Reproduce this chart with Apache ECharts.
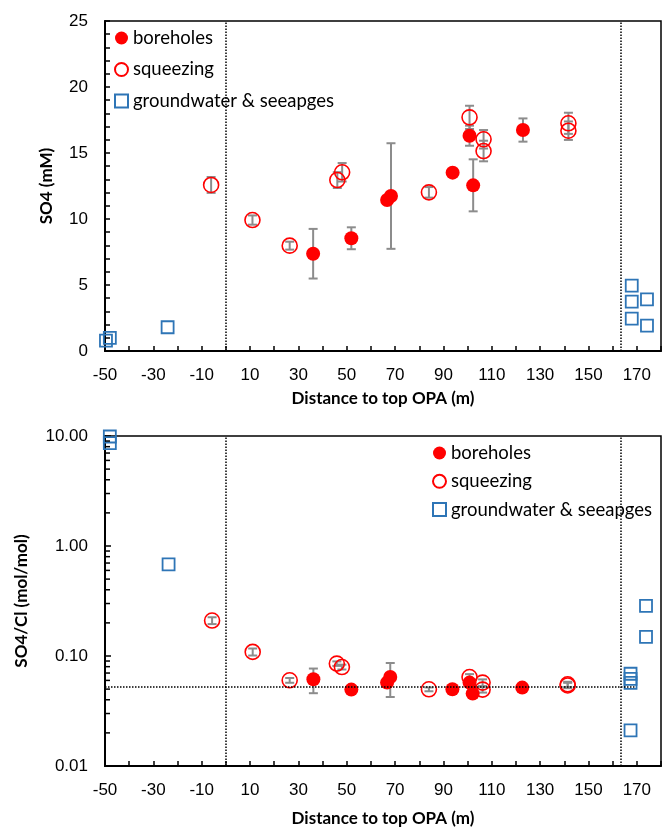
<!DOCTYPE html>
<html>
<head>
<meta charset="utf-8">
<style>
  html, body { margin: 0; padding: 0; background: #fff; }
  #main { width: 664px; height: 829px; }
</style>
</head>
<body>
<div id="main"></div>
<script src="https://cdn.jsdelivr.net/npm/echarts@6/dist/echarts.min.js"></script>
<script type="text/javascript">
// SO4 (mM) - top chart
var boreX = [36.1, 51.9, 66.7, 68.3, 93.8, 100.8, 102.3, 122.9];
var boreSO4 = [7.37, 8.54, 11.44, 11.74, 13.51, 16.31, 12.55, 16.74];
var boreSO4Err = [1.88, 0.83, 0, 4.0, 0, 0.76, 1.97, 0.88];

var sqzX = [-6.1, 11, 26.4, 46.1, 48.1, 84, 100.8, 106.6, 106.6, 141.7, 141.7];
var sqzSO4 = [12.58, 9.92, 7.98, 12.95, 13.54, 12.02, 17.7, 16.04, 15.15, 17.25, 16.69];
var sqzSO4Err = [0.6, 0.35, 0.3, 0.6, 0.7, 0.4, 0.88, 0.7, 0.78, 0.8, 0.7];

var gwX = [-49.6, -48, -24.1, 167.9, 167.9, 174.2, 167.9, 174.2];
var gwSO4 = [0.78, 1.0, 1.8, 4.95, 3.74, 3.91, 2.45, 1.92];

// SO4/Cl (mol/mol) - bottom chart
var boreX2 = [36.2, 51.9, 66.7, 68.0, 93.7, 100.8, 102.1, 122.6];
var boreRatio = [0.0614, 0.0495, 0.0573, 0.0644, 0.0498, 0.0573, 0.0455, 0.0516];
var boreRatioErr = [0.0155, 0, 0, 0.022, 0, 0, 0.004, 0];

var sqzX2 = [-5.7, 11.1, 26.4, 45.9, 48, 84, 100.8, 106.2, 106.2, 141.4, 141.4];
var sqzRatio = [0.21, 0.109, 0.0601, 0.0853, 0.0794, 0.0498, 0.0644, 0.0573, 0.0495, 0.0553, 0.054];
var sqzRatioErr = [0.015, 0.008, 0.003, 0.004, 0.004, 0.002, 0.004, 0.004, 0.003, 0.003, 0.003];

var gwX2 = [-48, -48, -23.7, 173.8, 173.8, 167.4, 167.4, 167.4, 167.4];
var gwRatio = [9.9, 8.6, 0.682, 0.285, 0.149, 0.069, 0.062, 0.057, 0.0211];

var refRatio = 0.052;
var logMinorTicks = [0.02, 0.03, 0.04, 0.05, 0.06, 0.07, 0.08, 0.09,
                     0.2, 0.3, 0.4, 0.5, 0.6, 0.7, 0.8, 0.9,
                     2, 3, 4, 5, 6, 7, 8, 9];

var RED = '#ff0000', BLUE = '#2e75b6', GREY = '#8c8c8c';
var LABEL_FONT = '"Liberation Sans", Arial, sans-serif';
var TEXT_FONT = 'Lato, "Noto Sans", sans-serif';

function zip(xs, ys, es) {
  return xs.map(function (x, i) { return es ? [x, ys[i], es[i]] : [x, ys[i]]; });
}

function errBars(params, api) {
  var x = api.value(0), y = api.value(1), e = api.value(2);
  if (!e) return;
  var t = api.coord([x, y + e]);
  var b = api.coord([x, y - e]);
  var st = { stroke: GREY, lineWidth: 2 };
  return {
    type: 'group',
    children: [
      { type: 'line', shape: { x1: t[0], y1: t[1], x2: b[0], y2: b[1] }, style: st },
      { type: 'line', shape: { x1: t[0] - 4.5, y1: t[1], x2: t[0] + 4.5, y2: t[1] }, style: st },
      { type: 'line', shape: { x1: b[0] - 4.5, y1: b[1], x2: b[0] + 4.5, y2: b[1] }, style: st }
    ]
  };
}

function xAx(gi, gap) {
  return {
    type: 'value', gridIndex: gi, min: -50, max: 180, interval: 10,
    name: 'Distance to top OPA (m)', nameLocation: 'middle', nameGap: gap,
    nameTextStyle: { fontFamily: TEXT_FONT, fontWeight: 'bold', fontSize: 17, color: '#000' },
    axisLine: { onZero: false, lineStyle: { color: '#000', width: 2 } },
    axisTick: { inside: true, length: 5, lineStyle: { color: '#000', width: 1.5 } },
    axisLabel: {
      margin: 16, fontFamily: LABEL_FONT, fontSize: 17, color: '#000',
      formatter: function (v) { return ((v + 50) % 20 === 0) ? String(v) : ''; }
    },
    splitLine: { show: false }
  };
}

var dotted = { color: '#000', type: 'dotted', width: 1.5 };

var chart = echarts.init(document.getElementById('main'));
var option = {
  animation: false,
  backgroundColor: '#fff',
  grid: [
    { left: 105, top: 21, width: 562, height: 330, show: true, borderColor: '#000', borderWidth: 1.5 },
    { left: 105, top: 436, width: 562, height: 330, show: true, borderColor: '#000', borderWidth: 1.5 }
  ],
  legend: [
    {
      orient: 'vertical', left: 109, top: 23, itemGap: 11.5, itemWidth: 13, itemHeight: 13,
      textStyle: { fontFamily: TEXT_FONT, fontSize: 18.5, color: '#000', lineHeight: 20 },
      data: ['boreholes', 'squeezing', 'groundwater & seeapges']
    },
    {
      orient: 'vertical', left: 427, top: 438, itemGap: 8.3, itemWidth: 13, itemHeight: 13,
      textStyle: { fontFamily: TEXT_FONT, fontSize: 18.5, color: '#000', lineHeight: 20 },
      data: ['boreholes', 'squeezing', 'groundwater & seeapges']
    }
  ],
  xAxis: [xAx(0, 39), xAx(1, 44)],
  yAxis: [
    {
      type: 'value', gridIndex: 0, min: 0, max: 25, interval: 5,
      name: 'SO4 (mM)', nameLocation: 'middle', nameGap: 50,
      nameTextStyle: { fontFamily: TEXT_FONT, fontWeight: 'bold', fontSize: 17, color: '#000' },
      axisLine: { show: true, onZero: false, lineStyle: { color: '#000', width: 2 } },
      axisTick: { show: true, inside: true, length: 5, lineStyle: { color: '#000', width: 1.5 } },
      minorTick: { show: true, splitNumber: 5, length: 5, lineStyle: { color: '#000', width: 1.5 } },
      axisLabel: { margin: 17, fontFamily: LABEL_FONT, fontSize: 17, color: '#000' },
      splitLine: { show: false }
    },
    {
      type: 'log', gridIndex: 1, min: 0.01, max: 10, logBase: 10,
      name: 'SO4/Cl (mol/mol)', nameLocation: 'middle', nameGap: 75,
      nameTextStyle: { fontFamily: TEXT_FONT, fontWeight: 'bold', fontSize: 17, color: '#000' },
      axisLine: { show: true, onZero: false, lineStyle: { color: '#000', width: 2 } },
      axisTick: { show: true, inside: true, length: 6, lineStyle: { color: '#000', width: 1.5 } },
      axisLabel: {
        margin: 17, fontFamily: LABEL_FONT, fontSize: 17, color: '#000',
        formatter: function (v) { return Number(v).toFixed(2); }
      },
      splitLine: { show: false }
    }
  ],
  series: [
    // log minor ticks on the bottom y axis
    {
      type: 'custom', xAxisIndex: 1, yAxisIndex: 1, silent: true, z: 5, clip: false,
      data: logMinorTicks.map(function (v) { return [-50, v]; }),
      renderItem: function (params, api) {
        var p = api.coord([api.value(0), api.value(1)]);
        return { type: 'line', shape: { x1: p[0], y1: p[1], x2: p[0] + 5, y2: p[1] },
                 style: { stroke: '#000', lineWidth: 1.5 } };
      }
    },
    // error bars
    { type: 'custom', xAxisIndex: 0, yAxisIndex: 0, silent: true, z: 2, renderItem: errBars, data: zip(sqzX, sqzSO4, sqzSO4Err) },
    { type: 'custom', xAxisIndex: 0, yAxisIndex: 0, silent: true, z: 2, renderItem: errBars, data: zip(boreX, boreSO4, boreSO4Err) },
    { type: 'custom', xAxisIndex: 1, yAxisIndex: 1, silent: true, z: 2, renderItem: errBars, data: zip(sqzX2, sqzRatio, sqzRatioErr) },
    { type: 'custom', xAxisIndex: 1, yAxisIndex: 1, silent: true, z: 2, renderItem: errBars, data: zip(boreX2, boreRatio, boreRatioErr) },

    // top chart
    {
      name: 'boreholes', type: 'scatter', xAxisIndex: 0, yAxisIndex: 0, z: 4,
      symbol: 'circle', symbolSize: 14, itemStyle: { color: RED, opacity: 1 },
      data: zip(boreX, boreSO4)
    },
    {
      name: 'squeezing', type: 'scatter', xAxisIndex: 0, yAxisIndex: 0, z: 3,
      symbol: 'circle', symbolSize: 15,
      itemStyle: { color: 'rgba(255,255,255,0)', borderColor: RED, borderWidth: 1.6, opacity: 1 },
      data: zip(sqzX, sqzSO4)
    },
    {
      name: 'groundwater & seeapges', type: 'scatter', xAxisIndex: 0, yAxisIndex: 0, z: 3,
      symbol: 'rect', symbolSize: 12,
      itemStyle: { color: 'rgba(255,255,255,0)', borderColor: BLUE, borderWidth: 1.8, opacity: 1 },
      data: zip(gwX, gwSO4),
      markLine: {
        silent: true, symbol: 'none', label: { show: false }, lineStyle: dotted,
        data: [{ xAxis: 0 }, { xAxis: 163.5 }]
      }
    },

    // bottom chart
    {
      name: 'boreholes', type: 'scatter', xAxisIndex: 1, yAxisIndex: 1, z: 4,
      symbol: 'circle', symbolSize: 14, itemStyle: { color: RED, opacity: 1 },
      data: zip(boreX2, boreRatio)
    },
    {
      name: 'squeezing', type: 'scatter', xAxisIndex: 1, yAxisIndex: 1, z: 3,
      symbol: 'circle', symbolSize: 15,
      itemStyle: { color: 'rgba(255,255,255,0)', borderColor: RED, borderWidth: 1.6, opacity: 1 },
      data: zip(sqzX2, sqzRatio)
    },
    {
      name: 'groundwater & seeapges', type: 'scatter', xAxisIndex: 1, yAxisIndex: 1, z: 3,
      symbol: 'rect', symbolSize: 12,
      itemStyle: { color: 'rgba(255,255,255,0)', borderColor: BLUE, borderWidth: 1.8, opacity: 1 },
      data: zip(gwX2, gwRatio),
      markLine: {
        silent: true, symbol: 'none', label: { show: false }, lineStyle: dotted,
        data: [
          { xAxis: 0 },
          { xAxis: 163.5 },
          [{ coord: [-50, refRatio] }, { coord: [169, refRatio] }]
        ]
      }
    }
  ]
};
chart.setOption(option);
</script>
</body>
</html>
